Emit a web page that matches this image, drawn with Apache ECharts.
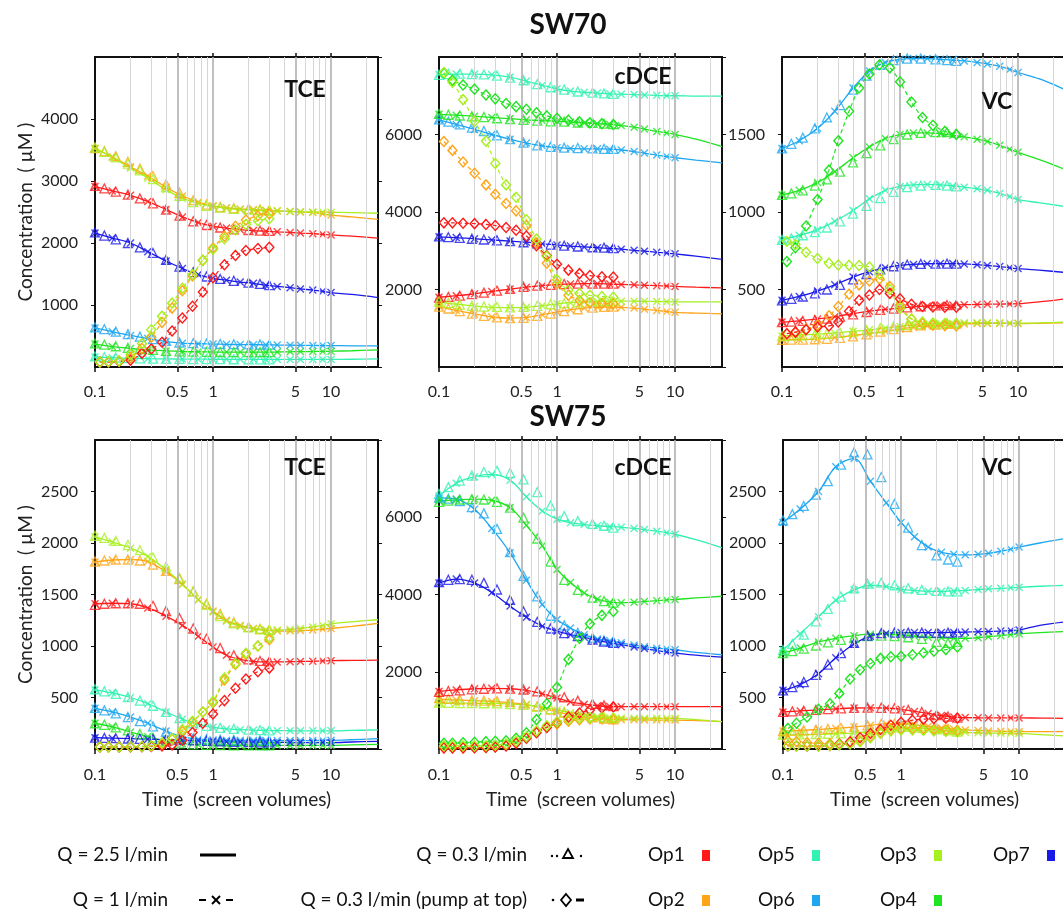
<!DOCTYPE html>
<html><head><meta charset="utf-8">
<script src="https://cdn.jsdelivr.net/npm/echarts@6/dist/echarts.min.js"></script>
<style>html,body{margin:0;padding:0;background:#fff}#c{width:1063px;height:911px}</style>
</head><body><div id="c"></div>
<script>
// ---------- time grids (screen volumes) ----------
const tL   = [0.1,0.14,0.2,0.28,0.4,0.55,0.75,1,1.3,1.7,2.2,2.8,3.5,4.5,5.5,7,8.5,10,15,25];
const tTri = [0.1,0.12,0.15,0.19,0.24,0.31,0.4,0.52,0.68,0.88,1.15,1.5,2,2.5,3];
const tDia = [0.11,0.13,0.16,0.2,0.25,0.3,0.37,0.45,0.55,0.67,0.82,1,1.25,1.55,1.9,2.4,3];
const xTickVals = [0.1,0.5,1,5,10];
const xTopTickVals = [0.5,1,5,10];
const gridMinor = [0.2,0.3,0.4,0.6,0.7,0.8,0.9,2,3,4,6,7,8,9,20];
const gridMajor = [0.5,1,5,10];

const opNames = ['Op1','Op2','Op3','Op4','Op5','Op6','Op7'];
const opColorList = ['#ff1a1a','#ffa516','#a6f01e','#1fe41f','#30f2b2','#1ea7f0','#1a1ae8'];
const drawOrder = ['Op5','Op6','Op4','Op7','Op2','Op1','Op3'];
const panelTitles = ['TCE','cDCE','VC','TCE','cDCE','VC'];
const rowTitles = ['SW70','SW75'];
const yMaxes = [5000,8000,2000,3000,8000,3000];
const yIntervals = [1000,2000,500,500,2000,500];
const xName = 'Time  (screen volumes)';
const yName = 'Concentration  ( \u00b5M )';
const legendQ = ['Q = 2.5 l/min','Q = 1 l/min','Q = 0.3 l/min','Q = 0.3 l/min (pump at top)'];

// ---------- SW70 TCE ----------
const sw70_TCE_line = {
 Op1:[2910,2840,2770,2670,2540,2420,2330,2270,2240,2215,2200,2190,2180,2170,2160,2150,2140,2130,2110,2080],
 Op2:[3520,3390,3230,3080,2900,2760,2660,2600,2570,2550,2540,2530,2520,2510,2500,2490,2470,2450,2420,2380],
 Op3:[3530,3380,3210,3050,2860,2720,2640,2590,2560,2540,2530,2520,2515,2510,2505,2500,2500,2495,2490,2480],
 Op4:[370,330,300,275,260,250,245,242,240,240,240,240,242,245,248,250,252,255,262,275],
 Op5:[160,150,140,135,130,128,126,125,124,124,123,123,123,122,122,122,122,122,125,130],
 Op6:[630,570,510,460,410,385,375,370,365,362,360,358,355,352,350,348,346,345,342,340],
 Op7:[2160,2080,2000,1860,1710,1590,1490,1430,1400,1370,1350,1320,1300,1280,1260,1240,1220,1200,1170,1120]
};
const sw70_TCE_tri = {
 Op1:[2920,2880,2830,2780,2720,2640,2540,2440,2350,2290,2250,2220,2210,2200,2195],
 Op2:[3530,3480,3400,3310,3200,3080,2950,2810,2690,2620,2580,2560,2550,2540,2530],
 Op3:[3540,3470,3380,3280,3170,3030,2900,2760,2660,2600,2570,2550,2540,2530,2525],
 Op4:[380,360,335,310,290,275,262,252,247,244,242,241,240,240,240],
 Op5:[170,160,152,145,140,135,132,130,128,127,126,125,125,124,124],
 Op6:[640,610,570,530,490,450,420,395,385,378,372,368,365,362,360],
 Op7:[2170,2120,2060,2000,1930,1840,1730,1620,1530,1460,1420,1390,1360,1340,1320]
};
const sw70_TCE_dia = {
 Op1:[80,80,90,110,220,290,400,580,790,980,1210,1440,1650,1800,1880,1910,1930],
 Op2:[80,85,95,150,300,480,720,950,1230,1470,1720,1920,2110,2270,2370,2440,2470],
 Op3:[80,85,95,200,380,600,820,1030,1270,1490,1720,1900,2070,2210,2300,2360,2390]
};

// ---------- SW70 cDCE ----------
const sw70_cDCE_line = {
 Op1:[1800,1840,1890,1950,2010,2060,2100,2130,2140,2150,2150,2140,2130,2120,2110,2100,2090,2080,2060,2040],
 Op2:[1560,1460,1370,1290,1260,1280,1350,1420,1480,1520,1540,1550,1540,1520,1490,1460,1430,1410,1390,1370],
 Op3:[1680,1620,1570,1540,1530,1540,1580,1630,1660,1680,1690,1700,1700,1700,1695,1690,1685,1680,1680,1680],
 Op4:[6520,6500,6470,6440,6410,6380,6360,6340,6320,6300,6280,6260,6230,6190,6140,6080,6040,6000,5880,5690],
 Op5:[7550,7560,7560,7540,7480,7380,7270,7180,7120,7090,7070,7050,7040,7030,7020,7010,7000,7000,6990,6990],
 Op6:[6380,6260,6130,6000,5880,5780,5710,5660,5640,5630,5630,5620,5600,5560,5520,5470,5430,5400,5340,5270],
 Op7:[3360,3340,3310,3280,3250,3220,3180,3150,3120,3100,3080,3060,3040,3010,2990,2960,2940,2920,2860,2780]
};
const sw70_cDCE_tri = {
 Op1:[1790,1810,1840,1880,1920,1970,2020,2070,2100,2120,2140,2150,2150,2150,2150],
 Op2:[1560,1510,1440,1380,1320,1280,1260,1270,1320,1380,1440,1490,1530,1550,1560],
 Op3:[1690,1650,1610,1580,1560,1550,1540,1550,1580,1620,1650,1670,1690,1700,1700],
 Op4:[6530,6510,6490,6470,6450,6420,6400,6380,6360,6340,6330,6310,6300,6280,6270],
 Op5:[7540,7560,7570,7560,7550,7520,7470,7400,7300,7220,7160,7110,7080,7060,7050],
 Op6:[6390,6330,6260,6180,6090,5980,5880,5790,5720,5680,5660,5650,5640,5630,5630],
 Op7:[3370,3350,3330,3310,3290,3270,3250,3220,3190,3160,3130,3110,3090,3080,3070]
};
const sw70_cDCE_dia = {
 Op1:[3720,3720,3710,3700,3680,3650,3600,3530,3380,3130,2870,2650,2500,2410,2360,2330,2320],
 Op2:[5820,5590,5290,5000,4700,4460,4220,4030,3650,3200,2680,2150,1850,1720,1660,1640,1630],
 Op3:[7600,7350,6900,6340,5830,5250,4700,4380,3800,3300,2850,2250,1980,1900,1850,1820,1800],
 Op4:[7580,7400,7280,7170,7020,6920,6800,6720,6650,6560,6480,6420,6370,6330,6300,6280,6260]
};

// ---------- SW70 VC ----------
const sw70_VC_line = {
 Op1:[290,298,310,325,345,360,372,380,388,394,398,400,402,404,405,406,407,408,420,440],
 Op2:[175,177,180,190,203,215,230,245,257,265,270,275,278,280,281,281,281,280,282,285],
 Op3:[200,205,212,220,230,240,252,262,270,276,280,283,285,286,286,285,284,283,285,290],
 Op4:[1110,1140,1190,1260,1350,1420,1475,1500,1510,1510,1505,1495,1485,1470,1455,1430,1405,1385,1340,1275],
 Op5:[820,850,885,940,1010,1085,1140,1165,1175,1178,1175,1168,1160,1150,1140,1120,1100,1080,1060,1035],
 Op6:[1410,1460,1540,1650,1800,1910,1965,1985,1990,1990,1985,1980,1975,1965,1955,1940,1920,1900,1860,1790],
 Op7:[430,455,490,530,580,615,640,655,662,666,667,667,665,660,655,648,640,635,625,610]
};
const sw70_VC_tri = {
 Op1:[290,293,297,303,312,325,340,355,368,377,385,392,397,400,402],
 Op2:[175,176,177,179,182,188,197,210,228,245,258,268,274,278,280],
 Op3:[200,202,205,209,214,220,228,238,250,262,270,276,280,283,285],
 Op4:[1110,1120,1140,1170,1210,1260,1320,1380,1430,1470,1500,1510,1515,1515,1510],
 Op5:[820,830,850,870,900,940,990,1040,1090,1130,1160,1170,1175,1170,1165],
 Op6:[1410,1440,1480,1540,1610,1690,1790,1880,1950,1980,1990,1990,1985,1980,1975],
 Op7:[430,440,455,475,500,530,565,600,630,650,660,665,667,667,667]
};
const sw70_VC_dia = {
 Op1:[215,225,240,258,265,290,360,430,465,500,475,440,405,390,387,385,385],
 Op2:[215,225,245,270,330,390,470,530,555,568,520,400,310,280,270,267,265],
 Op3:[810,790,740,700,670,658,656,655,645,600,500,380,310,290,283,281,280],
 Op4:[680,770,910,1080,1270,1460,1650,1800,1890,1950,1930,1840,1710,1610,1560,1520,1500]
};

// ---------- SW75 TCE ----------
const sw75_TCE_line = {
 Op1:[1410,1415,1410,1370,1290,1200,1095,990,910,870,850,845,845,848,850,852,855,858,860,862],
 Op2:[1815,1835,1840,1820,1720,1600,1450,1340,1250,1200,1170,1155,1145,1145,1150,1155,1165,1170,1190,1220],
 Op3:[2060,2010,1950,1870,1740,1600,1450,1330,1240,1190,1165,1155,1155,1160,1170,1185,1200,1215,1235,1255],
 Op4:[250,215,165,120,75,52,42,38,36,35,35,35,35,35,35,35,35,35,40,45],
 Op5:[575,545,500,440,360,290,240,210,195,188,183,180,178,177,176,176,176,176,180,185],
 Op6:[395,360,310,250,175,120,95,88,85,84,83,82,82,82,82,82,83,84,90,100],
 Op7:[110,105,100,95,90,85,80,75,70,68,66,65,64,63,62,62,62,62,68,75]
};
const sw75_TCE_tri = {
 Op1:[1400,1410,1415,1415,1410,1390,1340,1270,1170,1070,980,910,870,855,850],
 Op2:[1820,1830,1840,1840,1830,1790,1730,1650,1530,1410,1310,1230,1185,1165,1155],
 Op3:[2070,2050,2020,1980,1930,1860,1770,1660,1530,1400,1290,1220,1180,1165,1160],
 Op4:[250,235,210,180,145,110,75,55,45,40,38,36,35,35,35],
 Op5:[580,560,535,505,470,420,360,300,250,225,205,195,188,183,180],
 Op6:[400,375,345,310,270,220,170,130,105,95,90,87,85,84,83],
 Op7:[110,108,105,102,99,96,93,88,83,78,74,70,67,65,64]
};
const sw75_TCE_dia = {
 Op1:[20,20,20,20,22,25,30,40,85,160,250,340,470,590,680,750,785],
 Op2:[20,20,20,22,25,30,45,95,170,260,360,450,670,820,920,1000,1060],
 Op3:[20,20,20,22,25,30,60,100,190,270,360,460,690,830,930,1000,1080]
};

// ---------- SW75 cDCE ----------
const sw75_cDCE_line = {
 Op1:[1490,1530,1560,1570,1560,1520,1430,1320,1220,1160,1120,1100,1095,1095,1095,1095,1095,1095,1095,1095],
 Op2:[1300,1270,1250,1230,1200,1150,1060,960,880,830,790,770,760,755,752,750,750,750,735,710],
 Op3:[1190,1190,1185,1180,1165,1140,1080,1010,940,890,840,810,800,798,797,796,795,795,760,710],
 Op4:[6420,6450,6470,6440,6250,5790,5260,4650,4310,4040,3880,3800,3785,3800,3820,3840,3860,3870,3910,3955],
 Op5:[6550,6880,7050,7110,6960,6530,6160,5950,5860,5810,5780,5760,5740,5710,5680,5640,5600,5560,5420,5210],
 Op6:[6500,6470,6210,5710,5080,4370,3740,3350,3130,2960,2850,2800,2750,2690,2650,2610,2590,2570,2500,2440],
 Op7:[4300,4400,4300,4050,3700,3410,3180,3050,2960,2890,2810,2750,2700,2640,2600,2550,2510,2485,2430,2380]
};
const sw75_cDCE_tri = {
 Op1:[1480,1500,1520,1545,1560,1570,1565,1540,1490,1420,1340,1250,1170,1130,1110],
 Op2:[1320,1300,1280,1260,1250,1240,1220,1180,1110,1020,940,870,820,790,770],
 Op3:[1200,1195,1190,1190,1185,1180,1165,1140,1090,1030,960,900,850,820,805],
 Op4:[6400,6430,6460,6470,6460,6400,6250,5990,5450,4850,4380,4120,3920,3830,3790],
 Op5:[6600,6780,6950,7080,7170,7200,7150,6980,6650,6300,6030,5900,5830,5780,5730],
 Op6:[6510,6480,6420,6260,6100,5700,5100,4480,3950,3450,3200,3010,2880,2810,2780],
 Op7:[4320,4380,4400,4380,4300,4130,3860,3560,3290,3120,3000,2920,2830,2780,2750]
};
const sw75_cDCE_dia = {
 Op1:[30,30,30,35,40,50,80,150,280,420,560,690,830,930,1010,1060,1090],
 Op2:[30,30,30,35,40,50,90,170,300,440,560,650,720,760,780,780,770],
 Op3:[80,80,80,80,85,95,130,200,320,470,600,700,770,800,810,810,800],
 Op4:[150,150,160,175,190,200,215,280,420,760,1170,1600,2320,2860,3240,3460,3560]
};

// ---------- SW75 VC ----------
const sw75_VC_line = {
 Op1:[360,370,380,390,398,400,398,385,365,345,325,310,305,303,302,302,302,302,300,298],
 Op2:[175,180,190,200,215,230,245,245,235,220,205,195,185,180,175,172,170,168,168,168],
 Op3:[135,138,142,148,155,170,195,215,210,195,180,170,162,158,155,153,152,152,140,125],
 Op4:[930,980,1040,1075,1100,1115,1115,1105,1095,1085,1080,1075,1075,1080,1090,1100,1110,1120,1130,1140],
 Op5:[960,1120,1285,1445,1545,1590,1578,1550,1540,1532,1530,1535,1540,1548,1555,1560,1565,1570,1580,1590],
 Op6:[2200,2330,2500,2740,2820,2600,2390,2200,2060,1960,1910,1890,1885,1890,1900,1920,1940,1960,2000,2045],
 Op7:[570,625,730,885,1020,1095,1125,1130,1130,1130,1130,1132,1135,1138,1140,1145,1150,1155,1200,1235]
};
const sw75_VC_tri = {
 Op1:[360,365,372,380,388,395,400,402,400,395,380,360,330,315,305],
 Op2:[175,178,182,188,195,205,215,230,245,245,235,220,205,195,190],
 Op3:[140,140,142,145,148,152,158,170,190,210,215,205,190,180,170],
 Op4:[930,950,975,1005,1035,1060,1080,1095,1100,1095,1085,1070,1040,1030,1040],
 Op5:[960,1020,1110,1240,1360,1480,1560,1605,1615,1590,1560,1545,1535,1530,1530],
 Op6:[2220,2280,2360,2470,2600,2760,2880,2860,2640,2380,2150,1980,1880,1840,1820],
 Op7:[570,600,650,720,820,930,1030,1100,1125,1130,1130,1130,1130,1130,1132]
};
const sw75_VC_dia = {
 Op1:[30,30,30,30,35,45,70,110,150,190,230,260,280,290,295,298,300],
 Op2:[80,70,60,55,50,50,55,80,120,160,190,200,200,195,190,185,180],
 Op3:[30,30,30,30,35,40,50,70,110,150,175,185,185,180,175,170,165],
 Op4:[200,250,310,385,440,540,680,770,830,880,895,900,915,935,950,965,990]
};

// ---------- build ----------
const panelData = [
  [sw70_TCE_line, sw70_TCE_tri, sw70_TCE_dia],
  [sw70_cDCE_line, sw70_cDCE_tri, sw70_cDCE_dia],
  [sw70_VC_line, sw70_VC_tri, sw70_VC_dia],
  [sw75_TCE_line, sw75_TCE_tri, sw75_TCE_dia],
  [sw75_cDCE_line, sw75_cDCE_tri, sw75_cDCE_dia],
  [sw75_VC_line, sw75_VC_tri, sw75_VC_dia]
];
const FONT = 'Lato, "Open Sans", sans-serif';
const opColor = {};
opNames.forEach((n,i)=>opColor[n]=opColorList[i]);
const crossPath = 'path://M0,1L1,0L4,3L7,0L8,1L5,4L8,7L7,8L4,5L1,8L0,7L3,4Z';

const gridLefts = [95,439,782,95,439,783];
const gridTops = [57,57,57,440,440,440];
const gridH = [310,310,310,309,309,309];

const grids=[], xAxes=[], yAxes=[], series=[], graphics=[];
const fmtX = v => String(Math.round(v*10)/10);
const fmtY = v => String(Math.round(v));

for (let p=0;p<6;p++){
  const bottomRow = p>=3;
  grids.push({left:gridLefts[p], top:gridTops[p], width:283, height:gridH[p], outerBoundsMode:'none', containLabel:false});
  xAxes.push({type:'log', logBase:10, gridIndex:p, position:'bottom', min:0.1, max:25,
    axisLine:{show:true,onZero:false,lineStyle:{color:'#111',width:2}},
    axisTick:{show:true,customValues:xTickVals,length:5,lineStyle:{color:'#111',width:1.5}},
    axisLabel:{show:true,customValues:xTickVals,formatter:fmtX,fontSize:16,color:'#222',margin:bottomRow?18:17,fontFamily:FONT},
    splitLine:{show:false}, minorTick:{show:false}, minorSplitLine:{show:false},
    name: bottomRow? xName : '', nameLocation:'middle', nameGap:41,
    nameTextStyle:{fontSize:19,color:'#222',fontFamily:FONT}});
  xAxes.push({type:'log', logBase:10, gridIndex:p, position:'top', min:0.1, max:25,
    axisLine:{show:true,onZero:false,lineStyle:{color:'#111',width:2}},
    axisTick:{show:true,customValues:xTopTickVals,length:4,lineStyle:{color:'#111',width:1.5}},
    axisLabel:{show:false}, splitLine:{show:false}});
  yAxes.push({type:'value', gridIndex:p, position:'left', min:0, max:yMaxes[p], interval:yIntervals[p],
    axisLine:{show:true,onZero:false,lineStyle:{color:'#111',width:2}},
    axisTick:{show:true,length:4,lineStyle:{color:'#111'}},
    axisLabel:{showMinLabel:false,showMaxLabel:false,formatter:fmtY,fontSize:16,color:'#222',margin:17,fontFamily:FONT},
    splitLine:{show:false},
    name:(p%3===0)? yName : '', nameLocation:'middle', nameGap:60,
    nameTextStyle:{fontSize:19,color:'#222',fontFamily:FONT}});
  yAxes.push({type:'value', gridIndex:p, position:'right', min:0, max:yMaxes[p], interval:yIntervals[p],
    axisLine:{show:true,onZero:false,lineStyle:{color:'#111',width:2}},
    axisTick:{show:true,length:4,lineStyle:{color:'#111'}},
    axisLabel:{show:false}, splitLine:{show:false}});

  const xi=2*p, yi=2*p;
  series.push({type:'line', xAxisIndex:xi, yAxisIndex:yi, data:[], silent:true, z:1,
    markLine:{silent:true, symbol:['none','none'], label:{show:false}, animation:false,
      data: gridMinor.map(v=>({xAxis:v, lineStyle:{color:'#d6d6d6',width:1,type:'solid'}}))
        .concat(gridMajor.map(v=>({xAxis:v, lineStyle:{color:'#b0b0b0',width:1.6,type:'solid'}})))}});
  const [L,T,D] = panelData[p];
  drawOrder.forEach(op=>{
    if(!L[op]) return;
    series.push({type:'line', name:op+' Q=2.5', xAxisIndex:xi, yAxisIndex:yi, z:2,
      data: tL.map((t,i)=>[t,L[op][i]]), smooth:0.35, showSymbol:false,
      lineStyle:{color:opColor[op],width:1.3}, itemStyle:{color:opColor[op]}});
  });
  drawOrder.forEach(op=>{
    if(!L[op]) return;
    series.push({type:'scatter', name:op+' Q=1', xAxisIndex:xi, yAxisIndex:yi, z:3,
      data: tL.slice(0,18).map((t,i)=>[t,L[op][i]]), symbol:crossPath, symbolSize:8,
      itemStyle:{color:opColor[op]}});
  });
  drawOrder.forEach(op=>{
    if(!T[op]) return;
    series.push({type:'scatter', name:op+' Q=0.3', xAxisIndex:xi, yAxisIndex:yi, z:4,
      data: tTri.map((t,i)=>[t,T[op][i]]), symbol:'triangle', symbolSize:9,
      itemStyle:{color:'rgba(255,255,255,0)',borderColor:opColor[op],borderWidth:1.3}});
  });
  drawOrder.forEach(op=>{
    if(!D[op]) return;
    series.push({type:'line', name:op+' Q=0.3 top', xAxisIndex:xi, yAxisIndex:yi, z:5,
      data: tDia.map((t,i)=>[t,D[op][i]]), smooth:0.3, showSymbol:true, showAllSymbol:true,
      symbol:'diamond', symbolSize:[9,10],
      lineStyle:{color:opColor[op],width:1.2,type:[4,3]},
      itemStyle:{color:'rgba(255,255,255,0)',borderColor:opColor[op],borderWidth:1.4}});
  });
}

const labelPos = [[305,90],[643,77],[997,102],[305,468],[643,468],[997,468]];
panelTitles.forEach((t,i)=>{
  graphics.push({type:'text', x:labelPos[i][0], y:labelPos[i][1], z:50,
    style:{text:t, font:'bold 23px '+FONT, fill:'#111', align:'center', verticalAlign:'middle', textAlign:'center', textVerticalAlign:'middle'}});
});
[[568,25],[568,417]].forEach((pos,i)=>{
  graphics.push({type:'text', x:pos[0], y:pos[1], z:50,
    style:{text:rowTitles[i], font:'bold 28px '+FONT, fill:'#111', align:'center', verticalAlign:'middle', textAlign:'center', textVerticalAlign:'middle'}});
});
const LF = '19px '+FONT;
[[168,855,0],[168,900,1],[527,855,2],[527,900,3]].forEach(a=>{
  graphics.push({type:'text', x:a[0], y:a[1], style:{text:legendQ[a[2]], font:LF, fill:'#111', align:'right', verticalAlign:'middle', textAlign:'right', textVerticalAlign:'middle'}});
});
graphics.push({type:'line', shape:{x1:200,y1:855,x2:236,y2:855}, style:{stroke:'#000',lineWidth:3}});
graphics.push({type:'line', shape:{x1:199,y1:900,x2:206,y2:900}, style:{stroke:'#000',lineWidth:2}});
graphics.push({type:'line', shape:{x1:212,y1:896,x2:220,y2:904}, style:{stroke:'#000',lineWidth:2}});
graphics.push({type:'line', shape:{x1:220,y1:896,x2:212,y2:904}, style:{stroke:'#000',lineWidth:2}});
graphics.push({type:'line', shape:{x1:226,y1:900,x2:233,y2:900}, style:{stroke:'#000',lineWidth:2}});
graphics.push({type:'circle', shape:{cx:552,cy:856,r:1.2}, style:{fill:'#000'}});
graphics.push({type:'circle', shape:{cx:557,cy:856,r:1.2}, style:{fill:'#000'}});
graphics.push({type:'polygon', shape:{points:[[568,849],[573,858],[563,858]]}, style:{stroke:'#000',lineWidth:1.8,fill:'none'}});
graphics.push({type:'circle', shape:{cx:581,cy:856,r:1.2}, style:{fill:'#000'}});
graphics.push({type:'circle', shape:{cx:553,cy:900,r:1.3}, style:{fill:'#000'}});
graphics.push({type:'polygon', shape:{points:[[566,894],[571,900],[566,906],[561,900]]}, style:{stroke:'#000',lineWidth:1.8,fill:'none'}});
graphics.push({type:'line', shape:{x1:576,y1:900,x2:584,y2:900}, style:{stroke:'#000',lineWidth:3}});
const opLegendPos = {Op1:[648,855],Op5:[758,855],Op3:[880,855],Op7:[993,855],Op2:[648,900],Op6:[758,900],Op4:[880,900]};
Object.keys(opLegendPos).forEach(op=>{
  const [x,y] = opLegendPos[op];
  graphics.push({type:'text', x:x, y:y, style:{text:op, font:LF, fill:'#111', align:'left', verticalAlign:'middle', textAlign:'left', textVerticalAlign:'middle'}});
  graphics.push({type:'rect', shape:{x:x+54,y:y-5,width:8,height:11}, style:{fill:opColor[op]}});
});

const chart = echarts.init(document.getElementById('c'), null, {renderer:'canvas'});
chart.setOption({
  backgroundColor:'#fff', animation:false,
  grid:grids, xAxis:xAxes, yAxis:yAxes, series:series, graphic:graphics,
  tooltip:{show:false}
});
</script></body></html>
